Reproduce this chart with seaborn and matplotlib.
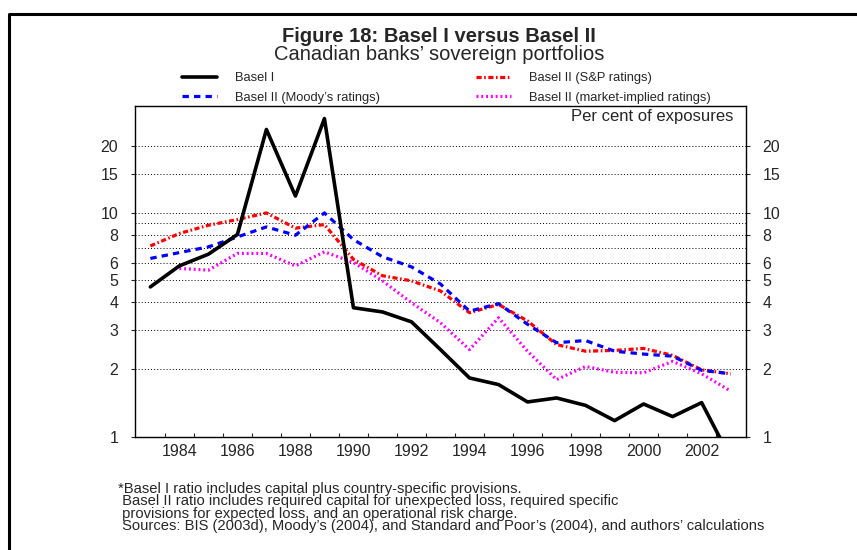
import numpy as np
import pandas as pd
import matplotlib
matplotlib.use("Agg")
import matplotlib.pyplot as plt
import seaborn as sns
from matplotlib.lines import Line2D

# Values (per cent of exposures)
years = list(range(1983, 2004))
basel_1 = [4.67, 5.80, 6.54, 8.01, 23.6, 11.9, 26.4, 3.77, 3.61, 3.26, 2.45,
           1.83, 1.71, 1.43, 1.49, 1.38, 1.18, 1.40, 1.23, 1.42, 0.80]
basel_2_sp = [7.12, 8.09, 8.81, 9.34, 10.0, 8.55, 8.87, 6.2, 5.24, 4.97, 4.48,
              3.58, 3.90, 3.29, 2.58, 2.41, 2.43, 2.48, 2.31, 1.99, 1.91]
basel_2_moodys = [6.26, 6.65, 7.05, 7.81, 8.66, 7.95, 10.0, 7.6, 6.37, 5.74, 4.81,
                  3.64, 3.93, 3.18, 2.63, 2.69, 2.41, 2.34, 2.29, 1.98, 1.91]
market_years = list(range(1984, 2004))
basel_2_market = [5.65, 5.55, 6.59, 6.59, 5.80, 6.70, 6.01, 4.97, 3.97, 3.23,
                  2.45, 3.40, 2.41, 1.80, 2.06, 1.94, 1.93, 2.17, 1.91, 1.60]

ytick_vals = [1, 2, 3, 4, 5, 6, 8, 10, 15, 20]
grid_vals = [2, 3, 4, 5, 6, 7, 8, 9, 10, 15, 20]
xtick_years = list(range(1984, 2003, 2))

sns.set_style("white")
plt.rcParams['font.family'] = ['Liberation Sans', 'DejaVu Sans']

fig = plt.figure(figsize=(8.57, 5.5), dpi=100)
ax = fig.add_axes([0.1575, 0.206, 0.713, 0.601])
ax.set_yscale('log')

lw = 2.3
styles = {
    'sp': dict(color='#ff0000', linestyle=(0, (1.6, 0.8, 0.5, 0.8))),
    'moodys': dict(color='#0000ff', linestyle=(0, (2.0, 1.6))),
    'market': dict(color='#ff00ff', linestyle=(0, (0.6, 0.9))),
    'b1': dict(color='black', linestyle='-'),
}

sns.lineplot(x=years, y=basel_2_sp, ax=ax, lw=lw, zorder=3, **styles['sp'])
sns.lineplot(x=years, y=basel_2_moodys, ax=ax, lw=lw, zorder=3, **styles['moodys'])
sns.lineplot(x=market_years, y=basel_2_market, ax=ax, lw=lw, zorder=3, **styles['market'])
sns.lineplot(x=years, y=basel_1, ax=ax, lw=lw + 0.3, zorder=4, **styles['b1'])

# dotted horizontal grid
for g in grid_vals:
    ax.axhline(g, color='black', lw=0.7, linestyle=(0, (1, 2.2)), zorder=1)

ax.set_xlim(1982.47, 2003.53)
ax.set_ylim(1, 30)

ax.set_yticks(ytick_vals)
ax.set_yticklabels([str(v) for v in ytick_vals])
ax.yaxis.set_minor_locator(plt.NullLocator())
ax.yaxis.set_minor_formatter(plt.NullFormatter())
ax.tick_params(axis='y', which='major', left=True, right=True, labelleft=True,
               labelright=True, direction='out', length=3, width=0.8,
               pad=9, labelsize=11.5)

ax.set_xticks(xtick_years)
ax.set_xticklabels([str(y) for y in xtick_years])
ax.set_xticks([y + 0.5 for y in range(1983, 2003)], minor=True)
ax.tick_params(axis='x', which='major', length=0, pad=5, labelsize=11.5)
ax.tick_params(axis='x', which='minor', bottom=True, direction='in',
               length=3, width=0.8)

for s in ax.spines.values():
    s.set_color('black')
    s.set_linewidth(1.0)

ax.set_xlabel('')
ax.set_ylabel('')

ax.text(0.979, 0.968, 'Per cent of exposures', transform=ax.transAxes,
        ha='right', va='center', fontsize=12)

# titles
fig.text(0.512, 1 - 37 / 550, 'Figure 18: Basel I versus Basel II',
         ha='center', va='center', fontsize=14.5, fontweight='bold')
fig.text(0.513, 1 - 55 / 550, 'Canadian banks\u2019 sovereign portfolios',
         ha='center', va='center', fontsize=14.5)

# legend (column-major: left col then right col)
handles = [
    Line2D([], [], lw=lw + 0.3, **styles['b1']),
    Line2D([], [], lw=lw, **styles['moodys']),
    Line2D([], [], lw=lw, **styles['sp']),
    Line2D([], [], lw=lw, **styles['market']),
]
labels = ['Basel I', 'Basel II (Moody\u2019s ratings)',
          'Basel II (S&P ratings)', 'Basel II (market-implied ratings)']
fig.legend(handles, labels, ncol=2, loc='center', frameon=False,
           bbox_to_anchor=(0.521, 1 - 88 / 550), fontsize=9.3,
           handlelength=2.7, handletextpad=1.4, columnspacing=7.4,
           labelspacing=0.6)

# footnote
note = ("*Basel I ratio includes capital plus country-specific provisions.\n"
        " Basel II ratio includes required capital for unexpected loss, required specific\n"
        " provisions for expected loss, and an operational risk charge.\n"
        " Sources: BIS (2003d), Moody\u2019s (2004), and Standard and Poor\u2019s (2004), and authors\u2019 calculations")
fig.text(118 / 857, 1 - 482 / 550, note, ha='left', va='top',
         fontsize=10.6, linespacing=0.86)

# outer frame (top and left edges visible)
fig.add_artist(Line2D([8.5 / 857, 8.5 / 857, 1.0],
                      [0.0, 1 - 13.5 / 550, 1 - 13.5 / 550],
                      transform=fig.transFigure, color='black', lw=2.2))

fig.savefig('out.png', dpi=100)
